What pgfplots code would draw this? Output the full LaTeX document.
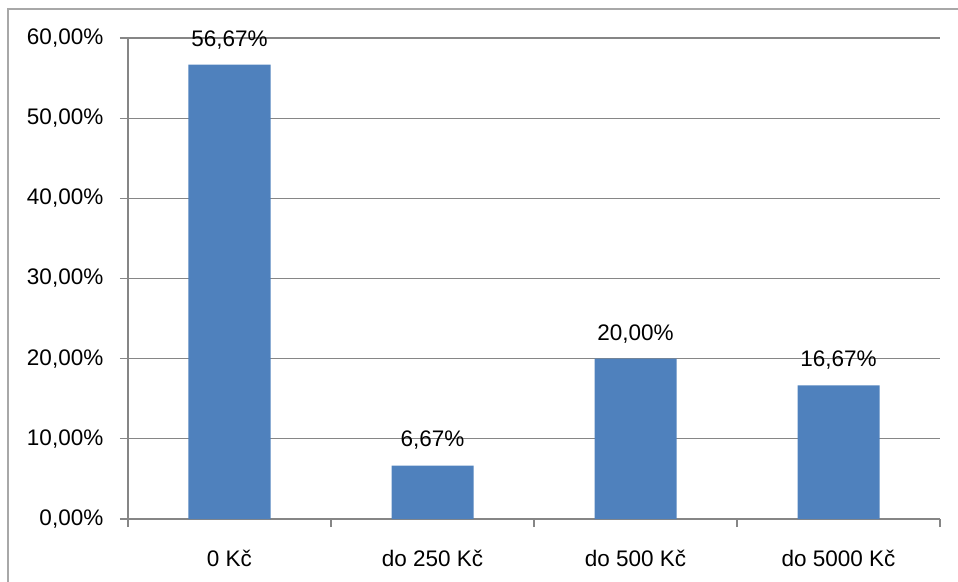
\documentclass[border=0pt]{standalone}
\usepackage{fontspec}
\setmainfont{Liberation Sans}
\usepackage{pgfplots}
\pgfplotsset{compat=1.18}
\definecolor{barblue}{RGB}{79,129,189}
\definecolor{gridgray}{RGB}{134,134,134}
\definecolor{framegray}{RGB}{168,168,168}
\begin{document}
\fontsize{22.5}{27}\selectfont
\begin{tikzpicture}[x=1pt,y=1pt]
\begin{axis}[
  at={(0,0)}, anchor=south west,
  scale only axis, width=812pt, height=481pt,
  ymin=0, ymax=60, xmin=-0.5, xmax=3.5,
  axis lines*=left,
  axis line style={gridgray, line width=1.3pt},
  ytick={0,10,...,60},
  ymajorgrids, grid style={gridgray, line width=1.3pt},
  xtick={0,1,2,3},
  xticklabels={0 Kč, do 250 Kč, do 500 Kč, do 5000 Kč},
  minor xtick={-0.5,0.5,1.5,2.5,3.5},
  major x tick style={draw=none},
  minor x tick style={gridgray, line width=1.3pt},
  y tick style={gridgray, line width=1.3pt},
  tick align=outside, major tick length=8pt, minor tick length=8pt,
  /pgf/number format/assume math mode=true,
  yticklabel={\pgfmathprintnumber[fixed,fixed zerofill,precision=2,use comma]{\tick}\%},
  yticklabel style={xshift=-9pt},
  xticklabel style={yshift=-15pt},
  ybar, bar width=82pt,
  nodes near coords={\pgfmathprintnumber[fixed,fixed zerofill,precision=2,use comma]{\pgfplotspointmeta}\%},
  nodes near coords style={font=\fontsize{22.5}{27}\selectfont, yshift=8pt},
  every tick label/.append style={font=\fontsize{22.5}{27}\selectfont},
]
\addplot[fill=barblue, draw=none] coordinates {(0,56.67) (1,6.67) (2,20.00) (3,16.67)};
\end{axis}
\begin{scope}
\clip (-128,-62) rectangle (830,519);
\draw[framegray, line width=2pt] (-120,-70) -- (-120,510) -- (840,510);
\end{scope}
\pgfresetboundingbox
\useasboundingbox (-128,-62) rectangle (830,519);
\end{tikzpicture}
\end{document}
